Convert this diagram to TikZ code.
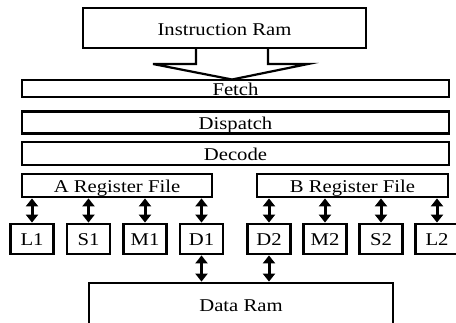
\documentclass[tikz,border=0pt]{standalone}
\usepackage{fontspec}
\setmainfont{Liberation Serif}[FakeStretch=1.15]
\usetikzlibrary{arrows.meta,positioning}
\tikzset{
x=1pt, y=-1pt, % picture measured in pixels, y grows downwards
block/.style={draw, line width=2.8pt, inner sep=0pt, text height=14pt, text depth=0pt, font=\fontsize{18}{18}\selectfont}, % every box with a label
unit/.style={block, minimum width=43pt, minimum height=30pt, text height=12pt}, % the functional units
link/.style={line width=3pt, {Triangle[length=8pt,width=12pt]}-{Triangle[length=8pt,width=12pt]}}, % two-way arrows
}

\begin{document}
\begin{tikzpicture}
		\clip (0,0) rectangle (456,322);
		\node[block, minimum width=283pt, minimum height=40pt] (iram) at (224.5,28) {Instruction Ram};
		\node[block, minimum width=427pt, minimum height=17pt] (fetch) at (235.5,88.5) {Fetch};
		\node[block, minimum width=427pt, minimum height=22pt] (dispatch) at (235.5,122.5) {Dispatch};
		\node[block, minimum width=427pt, minimum height=23pt] (decode) at (235.5,153.5) {Decode};
		\node[block, minimum width=190pt, minimum height=23pt] (rega) at (117,185.5) {A Register File};
		\node[block, minimum width=191pt, minimum height=23pt] (regb) at (352.5,185.5) {B Register File};
		% side A
		\node[unit] (L1) at (32,239) {L1};
		\node[unit, right=10.7pt of L1] (S1) {S1};
		\node[unit, right=10.7pt of S1] (M1) {M1};
		\node[unit, right=10.7pt of M1] (D1) {D1};
		% side B
		\node[unit] (D2) at (269,239) {D2};
		\node[unit, right=10.2pt of D2] (M2) {M2};
		\node[unit, right=10.2pt of M2] (S2) {S2};
		\node[unit, right=10.2pt of S2] (L2) {L2};
		\node[block, minimum width=304pt, minimum height=42pt] (dram) at (241,304) {Data Ram};
		% fat arrow from the instruction ram into fetch
		\draw[line width=2.2pt, line join=miter] (196,48) -- (196,64) -- (153,64) -- (232,79.5) -- (308,64) -- (268,64) -- (268,48);
		\foreach \u in {L1,S1,M1,D1}
			\draw[link] (\u.north |- rega.south) -- (\u.north);
		\foreach \u in {D2,M2,S2,L2}
			\draw[link] (\u.north |- regb.south) -- (\u.north);
		\draw[link] (D1.south) -- (D1.south |- dram.north);
		\draw[link] (D2.south) -- (D2.south |- dram.north);
	\end{tikzpicture}
\end{document}
